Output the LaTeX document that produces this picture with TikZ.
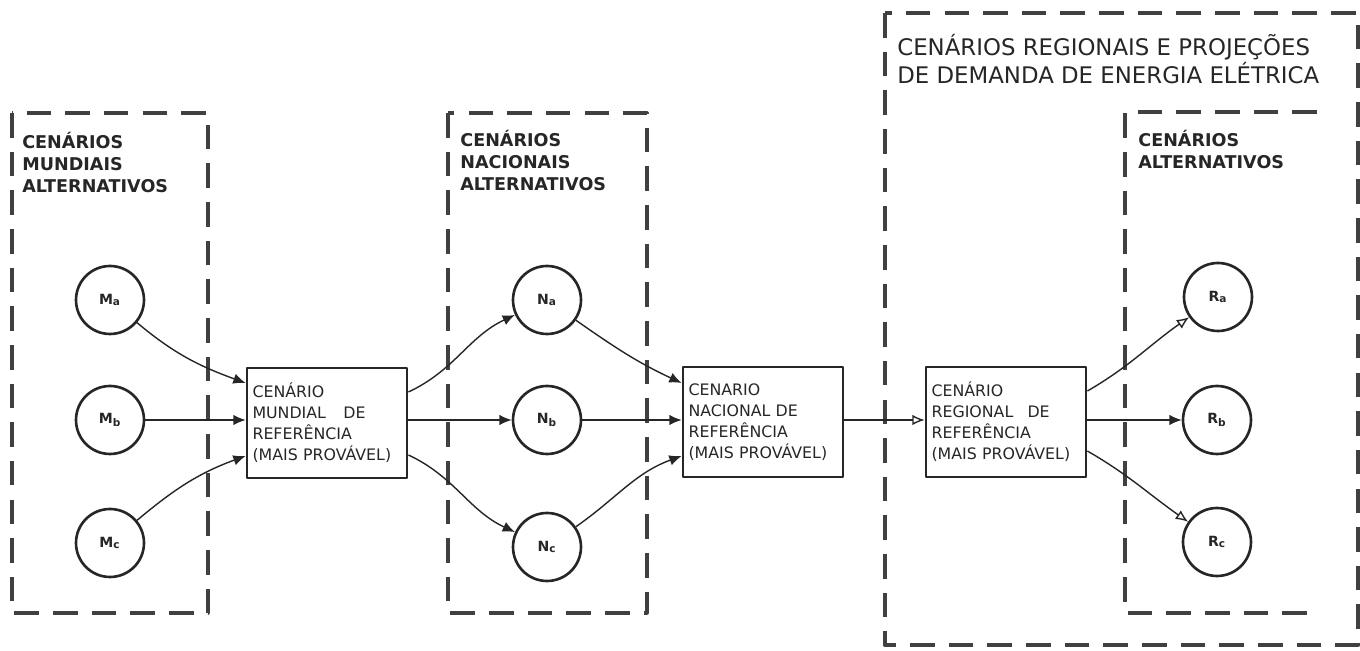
\documentclass[tikz,border=0pt]{standalone}
\usepackage{fontspec}
\setmainfont{DejaVu Sans}
\usetikzlibrary{arrows.meta}

\begin{document}
\begin{tikzpicture}[
    x=0.02cm, y=-0.02cm,
    line join=round,
    every node/.style={font=\fontsize{9}{12}\selectfont, text=black!85},
    cenario/.style={circle, draw=black!85, line width=1.5pt, minimum size=1.36cm, inner sep=0pt, font=\fontsize{8}{9}\selectfont\bfseries},
    refbox/.style={rectangle, draw=black!85, line width=1.6pt, minimum width=3.2cm, minimum height=2.2cm, text width=2.98cm, inner sep=0.11cm, align=left},
    grupo/.style={draw=black!75, line width=1.8pt, dash pattern=on 14pt off 8pt},
    rotulo/.style={anchor=north west, inner sep=0pt, align=left, font=\fontsize{10}{12.5}\selectfont\bfseries},
    liga/.style={draw=black!85, line width=0.8pt, -{Latex[length=7pt,width=6pt]}},
    ligaaberta/.style={liga, -{Latex[open,length=7pt,width=6pt]}}
]
\useasboundingbox (0,0) rectangle (1360,651);

\draw[grupo] (12,113) rectangle (208,613);
\draw[grupo] (448,113) rectangle (647,613);
\draw[grupo, line width=2.4pt] (885,13) rectangle (1358,645);
\draw[grupo] (1317,112) -- (1125,112) -- (1125,613) -- (1317,613);

\node[rotulo] (txtmund) at (22,132) {CENÁRIOS\\MUNDIAIS\\ALTERNATIVOS};
\node[rotulo] (txtnac) at (460,130) {CENÁRIOS\\NACIONAIS\\ALTERNATIVOS};
\node[rotulo] (txtreg) at (1138,130) {CENÁRIOS\\ALTERNATIVOS};
\node[anchor=north west, inner sep=0pt, align=left, font=\fontsize{13}{16}\selectfont] (titulo) at (897,34)
    {CENÁRIOS REGIONAIS E PROJEÇÕES\\DE DEMANDA DE ENERGIA ELÉTRICA};

\node[cenario] (Ma) at (110,300) {M\textsubscript{a}};
\node[cenario] (Mb) at (110,420) {M\textsubscript{b}};
\node[cenario] (Mc) at (110,543) {M\textsubscript{c}};
\node[cenario] (Na) at (547,300) {N\textsubscript{a}};
\node[cenario] (Nb) at (547,420) {N\textsubscript{b}};
\node[cenario] (Nc) at (547,547) {N\textsubscript{c}};
\node[cenario] (Ra) at (1218,297) {R\textsubscript{a}};
\node[cenario] (Rb) at (1217,420) {R\textsubscript{b}};
\node[cenario] (Rc) at (1217,542) {R\textsubscript{c}};

\node[refbox] (mund) at (327,423) {CENÁRIO\\MUNDIAL\hspace{1.1em}DE\\REFERÊNCIA\\(MAIS PROVÁVEL)};
\node[refbox] (nac) at (763,422) {CENARIO\\NACIONAL DE\\REFERÊNCIA\\(MAIS PROVÁVEL)};
\node[refbox] (reg) at (1006,422) {CENÁRIO\\REGIONAL\hspace{0.9em}DE\\REFERÊNCIA\\(MAIS PROVÁVEL)};

\draw[liga] (Ma) to[out=-40, in=160] ([yshift=0.8cm]mund.west);
\draw[liga] (Mb) -- (mund.west |- Mb);
\draw[liga] (Mc) to[out=40, in=200] ([yshift=-0.66cm]mund.west);

\draw[liga] ([yshift=0.62cm]mund.east) to[out=25, in=205] (Na);
\draw[liga] (mund.east |- Nb) -- (Nb);
\draw[liga] ([yshift=-0.64cm]mund.east) to[out=-25, in=155] (Nc);

\draw[liga] (Na) to[out=-35, in=155] ([yshift=0.78cm]nac.west);
\draw[liga] (Nb) -- (nac.west |- Nb);
\draw[liga] (Nc) to[out=35, in=200] ([yshift=-0.68cm]nac.west);

\draw[ligaaberta] (nac.east |- Nb) -- (reg.west |- Nb);

\draw[ligaaberta] ([yshift=0.62cm]reg.east) to[out=30, in=215] (Ra);
\draw[liga] (reg.east |- Rb) -- (Rb);
\draw[ligaaberta] ([yshift=-0.58cm]reg.east) to[out=-30, in=145] (Rc);
\end{tikzpicture}
\end{document}
